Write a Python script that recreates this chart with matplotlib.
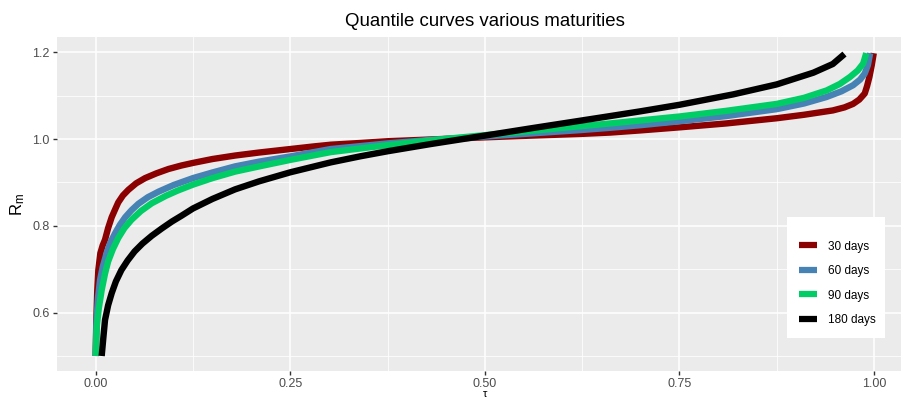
import numpy as np
import matplotlib
matplotlib.use('Agg')
import matplotlib.pyplot as plt
import matplotlib.ticker as tick
from matplotlib.patches import Rectangle

plt.rcParams['font.family'] = ['Liberation Sans', 'DejaVu Sans']

# ocitane vrijednosti kvantilnih krivulja (tau, R_m)
tau30 = [0.0, 0.0008, 0.002, 0.0034, 0.006, 0.009, 0.012, 0.016, 0.0206, 0.025, 0.029, 0.035,
         0.042, 0.052, 0.0635, 0.078, 0.0935, 0.11, 0.125, 0.15, 0.179, 0.21, 0.25, 0.28,
         0.302, 0.34, 0.375, 0.43, 0.5, 0.56, 0.625, 0.661, 0.7, 0.75, 0.81, 0.875, 0.91,
         0.947, 0.962, 0.973, 0.981, 0.988, 0.991, 0.994, 0.997, 0.9996]
r30 = [0.5, 0.58, 0.65, 0.698, 0.737, 0.755, 0.768, 0.795, 0.82, 0.838, 0.854, 0.87,
       0.883, 0.898, 0.91, 0.921, 0.931, 0.939, 0.945, 0.954, 0.962, 0.969, 0.977, 0.983,
       0.987, 0.991, 0.995, 0.999, 1.004, 1.008, 1.012, 1.015, 1.02, 1.027, 1.036, 1.048, 1.056,
       1.066, 1.073, 1.081, 1.091, 1.105, 1.122, 1.143, 1.17, 1.198]

tau60 = [0.0, 0.001, 0.003, 0.0056, 0.009, 0.014, 0.019, 0.025, 0.031, 0.038, 0.046, 0.055,
         0.067, 0.081, 0.1, 0.125, 0.15, 0.179, 0.21, 0.25, 0.302, 0.375, 0.43, 0.5, 0.56,
         0.625, 0.661, 0.7, 0.75, 0.81, 0.875, 0.91, 0.939, 0.958, 0.973, 0.982, 0.988,
         0.992, 0.995]
r60 = [0.5, 0.58, 0.635, 0.675, 0.705, 0.737, 0.762, 0.783, 0.802, 0.82, 0.836, 0.851,
       0.866, 0.879, 0.894, 0.91, 0.923, 0.937, 0.948, 0.96, 0.977, 0.99, 0.998, 1.006, 1.013,
       1.021, 1.026, 1.032, 1.041, 1.053, 1.069, 1.082, 1.097, 1.11, 1.124, 1.137, 1.151,
       1.17, 1.198]

tau90 = [0.0, 0.0015, 0.004, 0.0077, 0.012, 0.016, 0.022, 0.029, 0.037, 0.046, 0.058, 0.072,
         0.09, 0.105, 0.125, 0.15, 0.179, 0.21, 0.25, 0.302, 0.375, 0.43, 0.5, 0.56, 0.625,
         0.661, 0.7, 0.75, 0.81, 0.875, 0.91, 0.939, 0.956, 0.969, 0.979, 0.986, 0.99]
r90 = [0.5, 0.57, 0.61, 0.652, 0.69, 0.718, 0.746, 0.772, 0.795, 0.814, 0.834, 0.852,
       0.869, 0.881, 0.895, 0.91, 0.925, 0.937, 0.952, 0.97, 0.986, 0.997, 1.009, 1.019, 1.03,
       1.036, 1.043, 1.052, 1.065, 1.081, 1.095, 1.112, 1.127, 1.143, 1.158, 1.174, 1.198]

tau180 = [0.0077, 0.01, 0.012, 0.016, 0.0206, 0.026, 0.033, 0.041, 0.05, 0.06, 0.072, 0.085,
          0.098, 0.11, 0.125, 0.15, 0.179, 0.21, 0.25, 0.302, 0.34, 0.375, 0.43, 0.5, 0.56,
          0.625, 0.661, 0.7, 0.75, 0.819, 0.875, 0.922, 0.947, 0.962]
r180 = [0.5, 0.545, 0.583, 0.617, 0.645, 0.672, 0.698, 0.72, 0.741, 0.759, 0.777, 0.794,
        0.81, 0.823, 0.84, 0.862, 0.884, 0.9026, 0.9234, 0.9463, 0.9603, 0.9719, 0.9884, 1.008,
        1.025, 1.043, 1.053, 1.064, 1.079, 1.103, 1.126, 1.153, 1.173, 1.196]

labels = ['30 days', '60 days', '90 days', '180 days']
colors = ['#8B0000', '#4682B4', '#00CD66', '#000000']

fig = plt.figure(figsize=(9.01, 3.99), dpi=100)
ax = fig.add_axes([0.0630, 0.0697, 0.9503, 0.8373])
ax.set_facecolor('#EBEBEB')

series = [(tau30, r30), (tau60, r60), (tau90, r90), (tau180, r180)]
for (t, r), c, lab in zip(series, colors, labels):
    ax.plot(t, r, color=c, lw=4.6, label=lab, solid_capstyle='butt',
            solid_joinstyle='round', zorder=3)

ax.set_xlim(-0.05, 1.05)
ax.set_ylim(0.465, 1.235)
ax.xaxis.set_major_locator(tick.MultipleLocator(0.25))
ax.xaxis.set_minor_locator(tick.MultipleLocator(0.125))
ax.yaxis.set_major_locator(tick.FixedLocator([0.6, 0.8, 1.0, 1.2]))
ax.yaxis.set_minor_locator(tick.FixedLocator([0.5, 0.7, 0.9, 1.1]))
ax.xaxis.set_major_formatter(tick.FormatStrFormatter('%.2f'))
ax.yaxis.set_major_formatter(tick.FormatStrFormatter('%.1f'))
ax.grid(which='major', color='white', lw=1.1)
ax.grid(which='minor', color='white', lw=0.55)
ax.set_axisbelow(True)
for s in ax.spines.values():
    s.set_visible(False)
ax.tick_params(which='major', length=3, width=1, color='#333333', labelcolor='#4D4D4D',
               labelsize=9, pad=2)
ax.tick_params(which='minor', length=0)

ax.set_ylabel(r'$\mathregular{R_m}$', fontsize=12, labelpad=4)
ax.set_xlabel('τ', fontsize=8, labelpad=-0.5)
ax.set_title('Quantile curves various maturities', fontsize=13.4, pad=8)

# bijela podloga legende (kao u ggplot)
W, H = 901, 399
ax.add_patch(Rectangle((787/W, 1 - 338/H), 98/W, 121/H, transform=fig.transFigure,
                       facecolor='white', edgecolor='none', zorder=4, clip_on=False))
leg = ax.legend(loc='upper left', bbox_to_anchor=(795/W, 1 - 237/H),
                bbox_transform=fig.transFigure, frameon=False,
                fontsize=8.5, handlelength=1.6, handletextpad=0.9,
                labelspacing=1.06, borderpad=0.3, borderaxespad=0)
leg.set_zorder(5)
for h in leg.get_lines():
    h.set_linewidth(4.5)

fig.savefig('out.png', dpi=100)
